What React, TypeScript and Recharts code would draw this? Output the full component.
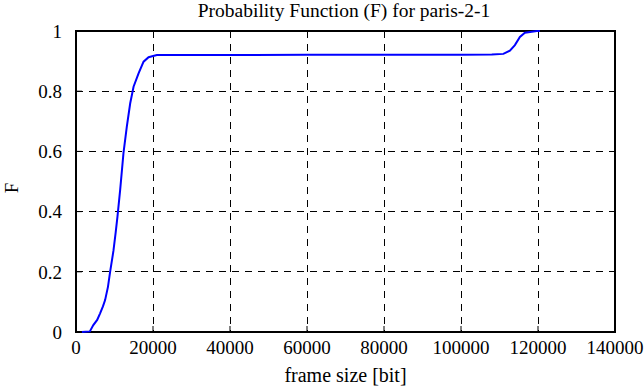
import { LineChart, Line, XAxis, YAxis, CartesianGrid, Label, ReferenceArea } from "recharts"

const frameSize = [
  1500, 3600, 4500, 5500, 6260, 7000, 7560, 8300, 8860, 9730, 10300, 10770, 11470, 12330, 13200, 14080,
  14950, 16250, 17550, 18850, 21000, 40000, 60000, 80000, 100000, 108000, 111000, 112700, 114000, 115300,
  116600, 119700, 120500,
]
const probF = [
  0, 0.002, 0.023, 0.04, 0.062, 0.085, 0.106, 0.15, 0.2, 0.27, 0.33, 0.383, 0.472, 0.594, 0.682, 0.76,
  0.815, 0.859, 0.898, 0.913, 0.92, 0.92, 0.921, 0.921, 0.921, 0.922, 0.924, 0.935, 0.953, 0.98,
  0.994, 1.0, 1.0,
]
const xTicks = [0, 20000, 40000, 60000, 80000, 100000, 120000, 140000]
const yTicks = [0, 0.2, 0.4, 0.6, 0.8, 1]

const data = frameSize.map((x, i) => ({ x, f: probF[i] }))

const font = "'Liberation Serif', 'Times New Roman', serif"
const tickStyle = { fontSize: 19, fill: "#000", fontFamily: font }
const labelStyle = { fontSize: 20, fill: "#000", fontFamily: font }

// rotated "F" at the far left, like gnuplot draws it
const yLabel = () => (
  <text
    x={11}
    y={188}
    transform="rotate(-90, 11, 188)"
    textAnchor="middle"
    dominantBaseline="central"
    fontSize={19}
    fontFamily={font}
    fill="#000"
  >
    F
  </text>
)

export default function App() {
  return (
    <div style={{ position: "absolute", left: 0, top: 0, width: 644, height: 387, background: "#fff" }}>
      <div
        style={{
          position: "absolute",
          left: 0,
          width: 688,
          top: 0,
          textAlign: "center",
          fontFamily: font,
          fontSize: 19.5,
          color: "#000",
        }}
      >
        Probability Function (F) for paris-2-1
      </div>
      <LineChart width={644} height={387} data={data} margin={{ top: 31, right: 29, bottom: 0, left: 0 }}>
        <CartesianGrid stroke="#000" strokeDasharray="7 6" strokeWidth={1} shapeRendering="crispEdges" />
        <XAxis
          dataKey="x"
          type="number"
          domain={[0, 140000]}
          ticks={xTicks}
          height={55}
          tickSize={-6}
          tickMargin={15}
          axisLine={false}
          tickLine={{ stroke: "#000", strokeWidth: 1 }}
          tick={tickStyle}
        >
          <Label value="frame size [bit]" position="insideBottom" offset={5} style={labelStyle} />
        </XAxis>
        <YAxis
          type="number"
          domain={[0, 1]}
          ticks={yTicks}
          width={76}
          tickSize={-6}
          tickMargin={20}
          axisLine={false}
          tickLine={{ stroke: "#000", strokeWidth: 1 }}
          tick={tickStyle}
        >
          <Label content={yLabel} />
        </YAxis>
        <ReferenceArea
          x1={0}
          x2={140000}
          y1={0}
          y2={1}
          fill="none"
          fillOpacity={0}
          stroke="#000"
          strokeWidth={2}
          strokeOpacity={1}
          shapeRendering="crispEdges"
        />
        <Line
          dataKey="f"
          type="linear"
          stroke="#0000ff"
          strokeWidth={2}
          dot={false}
          isAnimationActive={false}
        />
      </LineChart>
    </div>
  )
}
